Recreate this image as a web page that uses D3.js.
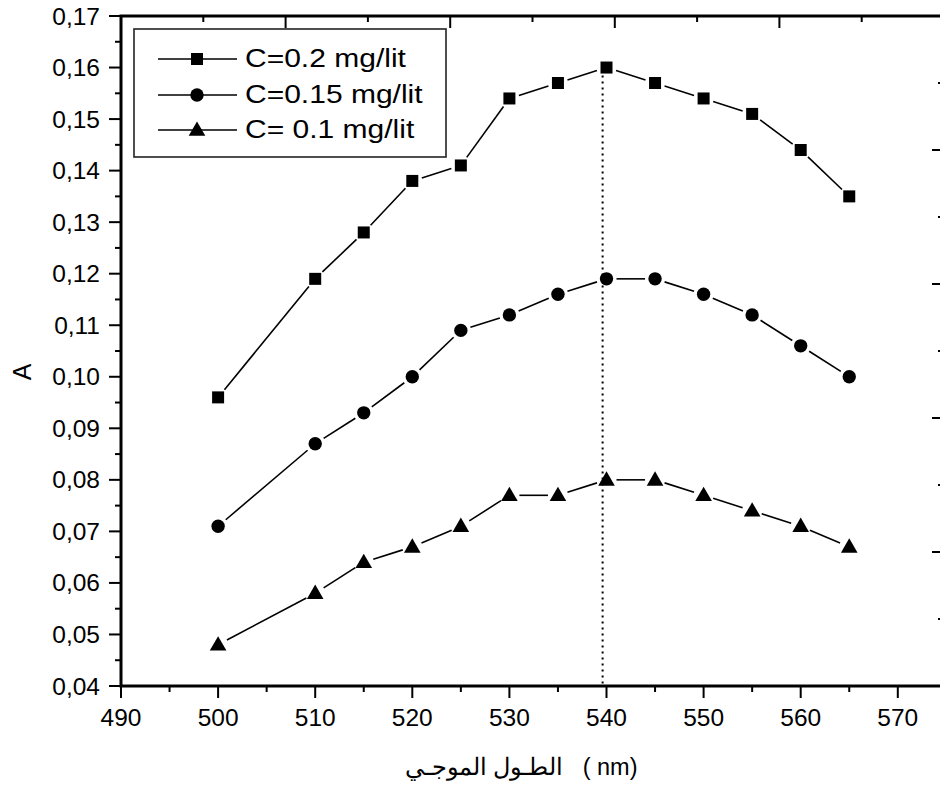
<!DOCTYPE html>
<html><head><meta charset="utf-8">
<script src="https://cdn.jsdelivr.net/npm/d3@7"></script>
<style>body{margin:0;background:#fff}svg{display:block}text{font-family:"Liberation Sans",Arial,sans-serif;fill:#000}</style>
</head><body>
<svg id="c" width="940" height="789"></svg>
<script>
const wavelengths = [500,510,515,520,525,530,535,540,545,550,555,560,565];
const seriesNames = ["C=0.2 mg/lit","C=0.15 mg/lit","C= 0.1 mg/lit"];
const seriesC02  = [0.096,0.119,0.128,0.138,0.141,0.154,0.157,0.160,0.157,0.154,0.151,0.144,0.135];
const seriesC015 = [0.071,0.087,0.093,0.100,0.109,0.112,0.116,0.119,0.119,0.116,0.112,0.106,0.100];
const seriesC01  = [0.048,0.058,0.064,0.067,0.071,0.077,0.077,0.080,0.080,0.077,0.074,0.071,0.067];
const xTicks = [490,500,510,520,530,540,550,560,570];
const xMinorTicks = [495,505,515,525,535,545,555,565];
const yTicks = [0.04,0.05,0.06,0.07,0.08,0.09,0.10,0.11,0.12,0.13,0.14,0.15,0.16,0.17];
const yMinorTicks = [0.045,0.055,0.065,0.075,0.085,0.095,0.105,0.115,0.125,0.135,0.145,0.155,0.165];
const peakWavelength = 539.6;
const peakValue = 0.160;
const frameTicks = [0,1,2,3,4,5];
const frameMinorTicks = [0.5,1.5,2.5,3.5,4.5];
const xLabel = "الطـول الموجـي   ( nm)";
const yLabel = "A";

const svg = d3.select("#c");
const L = 121, R = 944, T = 16, B = 686;
const x = d3.scaleLinear().domain([490, 490 + (R - L) / 9.71]).range([L, R]);
const y = d3.scaleLinear().domain([0.04, 0.17]).range([B, T]);
const xTop = d3.scaleLinear().domain([0,5]).range([L, R]);
const yRight = d3.scaleLinear().domain([0,5]).range([B, T]);

const fmt = v => d3.format(".2f")(v).replace(".", ",");

// dotted peak line
svg.append("line").attr("x1", x(peakWavelength)).attr("x2", x(peakWavelength))
  .attr("y1", y(peakValue) + 8).attr("y2", B)
  .attr("stroke","#000").attr("stroke-width",2).attr("stroke-dasharray","2,4");

// axes ticks
const tk = (x1,y1,x2,y2) => svg.append("line").attr("x1",x1).attr("y1",y1).attr("x2",x2).attr("y2",y2).attr("stroke","#000").attr("stroke-width",2);
xTicks.forEach(v => tk(x(v), B, x(v), B + 12));
xMinorTicks.forEach(v => tk(x(v), B, x(v), B + 6));
yTicks.forEach(v => tk(L, y(v), L - 12, y(v)));
yMinorTicks.forEach(v => tk(L, y(v), L - 6, y(v)));
frameTicks.forEach(v => tk(xTop(v), T, xTop(v), T + 12));
frameMinorTicks.forEach(v => tk(xTop(v), T, xTop(v), T + 6));
frameTicks.forEach(v => tk(R, yRight(v), R - 12, yRight(v)));
frameMinorTicks.forEach(v => tk(R, yRight(v), R - 6, yRight(v)));

// frame
svg.append("rect").attr("x", L).attr("y", T).attr("width", R - L).attr("height", B - T)
  .attr("fill","none").attr("stroke","#000").attr("stroke-width",3);

// tick labels
xTicks.forEach(v => svg.append("text").attr("x", x(v)).attr("y", 726).attr("text-anchor","middle")
  .attr("font-size", 24.5).text(v));
yTicks.forEach(v => svg.append("text").attr("x", 100).attr("y", y(v)).attr("dy","0.35em").attr("text-anchor","end")
  .attr("font-size", 24.5).text(fmt(v)));

// axis titles
svg.append("text").attr("transform","translate(31,372) rotate(-90)").attr("text-anchor","middle")
  .attr("font-size", 25).text(yLabel);
svg.append("text").attr("x", 521).attr("y", 775).attr("text-anchor","middle").attr("direction","ltr")
  .style("white-space","pre").attr("font-size", 23.5).text(xLabel);

// markers
function marker(g, type, cx, cy) {
  if (type === 0) g.append("rect").attr("x", cx-6).attr("y", cy-6).attr("width",12).attr("height",12).attr("fill","#000");
  else if (type === 1) g.append("circle").attr("cx",cx).attr("cy",cy).attr("r",6.7).attr("fill","#000");
  else g.append("path").attr("d", d3.symbol().type(d3.symbolTriangle).size(120)()).attr("transform",`translate(${cx},${cy+1})`).attr("fill","#000");
}

const allSeries = [seriesC02, seriesC015, seriesC01];
allSeries.forEach((vals, si) => {
  const g = svg.append("g");
  const pts = wavelengths.map((w,i) => [x(w), y(vals[i])]);
  for (let i = 0; i < pts.length - 1; i++) {
    const [x1,y1] = pts[i], [x2,y2] = pts[i+1];
    const dx = x2-x1, dy = y2-y1, len = Math.hypot(dx,dy), gap = 10;
    if (len <= 2*gap) continue;
    g.append("line").attr("x1", x1 + dx/len*gap).attr("y1", y1 + dy/len*gap)
      .attr("x2", x2 - dx/len*gap).attr("y2", y2 - dy/len*gap)
      .attr("stroke","#000").attr("stroke-width",1.6);
  }
  pts.forEach(p => marker(g, si, p[0], p[1]));
});

// legend
const lg = svg.append("g");
lg.append("rect").attr("x",134).attr("y",29).attr("width",312).attr("height",128)
  .attr("fill","#fff").attr("stroke","#222").attr("stroke-width",1.6);
const rows = [59, 95, 130];
seriesNames.forEach((n, i) => {
  lg.append("line").attr("x1",158).attr("x2",237).attr("y1",rows[i]).attr("y2",rows[i]).attr("stroke","#000").attr("stroke-width",1.6);
  marker(lg, i, 197, rows[i]);
  lg.append("text").attr("transform",`translate(245,${rows[i]+8}) scale(1.2,1)`).attr("font-size",25).text(n);
});
</script>
</body></html>
